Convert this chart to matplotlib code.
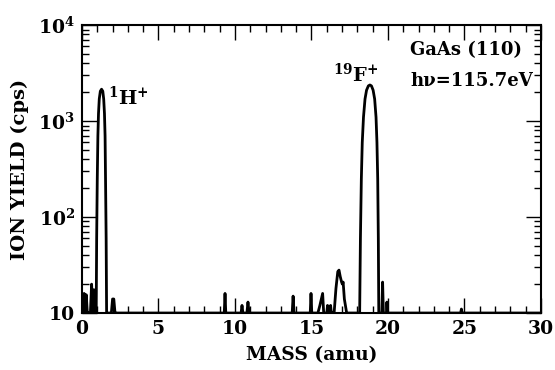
import numpy as np
import matplotlib
matplotlib.use('Agg')
import matplotlib.pyplot as plt
from matplotlib.ticker import MultipleLocator, FixedLocator, LogLocator, NullFormatter

# Espectro de masas
mass = [0.0, 0.05, 0.09, 0.14, 0.2, 0.28, 0.35, 0.42, 0.55, 0.63, 0.7, 0.78, 0.85, 0.9,
        0.93, 0.96, 1.0, 1.04, 1.08, 1.13, 1.2, 1.28, 1.36, 1.42, 1.47, 1.51, 1.54, 1.58, 1.61,
        1.92, 2.0, 2.08, 2.16, 2.2,
        9.3, 9.35, 9.4, 10.4, 10.46, 10.52, 10.78, 10.85, 10.92,
        13.74, 13.8, 13.86, 14.92, 14.97, 15.02,
        15.42, 15.55, 15.73, 15.8, 16.0, 16.05, 16.1, 16.2, 16.25, 16.3, 16.36,
        16.48, 16.6, 16.72, 16.8, 16.88, 16.97, 17.02, 17.07, 17.15, 17.3,
        18.15, 18.2, 18.26, 18.32, 18.4, 18.5, 18.6, 18.72, 18.82, 18.92, 19.03, 19.13,
        19.22, 19.28, 19.33, 19.37, 19.4,
        19.6, 19.65, 19.7, 19.9, 19.93, 19.97,
        24.75, 24.8, 24.85, 30.0]
counts = [10, 15, 10, 16, 10, 15.5, 10, 10, 10, 20, 10, 17.5, 10, 10,
          10, 60, 250, 700, 1200, 1700, 2050, 2150, 2050, 1700, 1200, 700, 250, 60, 10,
          10, 14, 14, 10, 10,
          10, 16, 10, 10, 12, 10, 10, 13, 10,
          10, 15, 10, 10, 16, 10,
          10, 12, 16, 10, 10, 12, 10, 10, 12, 10, 10,
          10, 18, 27, 28, 24, 21, 20, 21, 14, 10,
          10, 60, 250, 600, 1100, 1700, 2100, 2330, 2380, 2330, 2100, 1700,
          1100, 600, 250, 60, 10,
          10, 21, 10, 10, 13, 10,
          10, 11, 10, 10]

x_ticks = [0, 5, 10, 15, 20, 25, 30]
y_ticks = [10, 100, 1000, 10000]
y_labels = ['10', r'$\mathbf{10^2}$', r'$\mathbf{10^3}$', r'$\mathbf{10^4}$']

plt.rcParams['font.family'] = ['DejaVu Serif']
plt.rcParams['font.weight'] = 'bold'
plt.rcParams['mathtext.fontset'] = 'custom'
plt.rcParams['mathtext.rm'] = 'DejaVu Serif:bold'
plt.rcParams['mathtext.bf'] = 'DejaVu Serif:bold'

fig = plt.figure(figsize=(5.55, 3.7), dpi=100)
ax = fig.add_axes([0.1477, 0.154, 0.827, 0.778])

ax.plot(mass, counts, color='black', lw=2.0, solid_joinstyle='round')

ax.set_yscale('log')
ax.set_xlim(0, 30)
ax.set_ylim(10, 10000)

ax.xaxis.set_major_locator(FixedLocator(x_ticks))
ax.xaxis.set_minor_locator(MultipleLocator(1))
ax.yaxis.set_major_locator(FixedLocator(y_ticks))
ax.set_yticklabels(y_labels)
ax.yaxis.set_minor_locator(LogLocator(base=10, subs=np.arange(2, 10)))
ax.yaxis.set_minor_formatter(NullFormatter())

ax.tick_params(which='both', direction='in', top=True, right=True, width=1.0)
ax.tick_params(which='major', length=11, labelsize=13.5, pad=5)
ax.tick_params(which='minor', length=5)
for lab in ax.get_xticklabels() + ax.get_yticklabels():
    lab.set_fontweight('bold')
for s in ax.spines.values():
    s.set_linewidth(1.5)

ax.set_xlabel('MASS (amu)', fontsize=13.5, fontweight='bold', labelpad=6)
ax.set_ylabel('ION YIELD (cps)', fontsize=14, fontweight='bold', labelpad=7)

# Etiquetas de los picos
ax.text(1.7, 1480, r'$^{\mathbf{1}}$H$^{\mathbf{+}}$', fontsize=14, fontweight='bold')
ax.text(16.4, 2570, r'$^{\mathbf{19}}$F$^{\mathbf{+}}$', fontsize=14, fontweight='bold')
ax.text(0.715, 0.896, 'GaAs (110)', transform=ax.transAxes, fontsize=13, fontweight='bold')
ax.text(0.715, 0.788, 'hν=115.7eV', transform=ax.transAxes, fontsize=13, fontweight='bold')

fig.savefig('out.png', dpi=100)
